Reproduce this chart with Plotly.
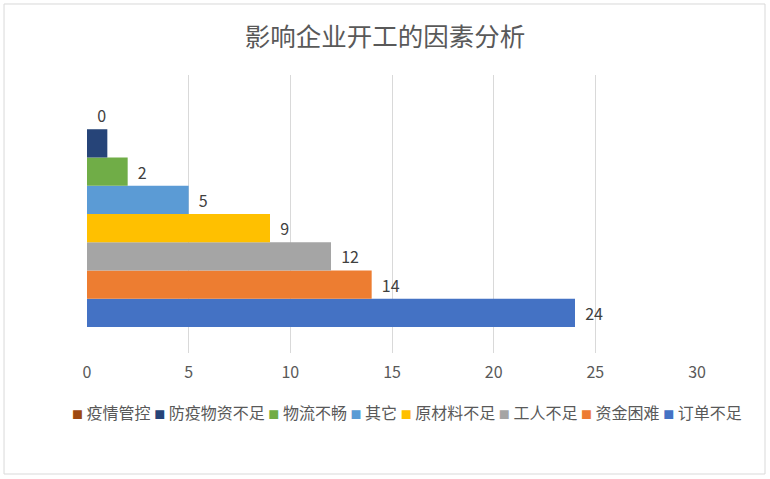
import plotly.graph_objects as go

# bottom-to-top order of the bars
factors = ["订单不足", "资金困难", "工人不足", "原材料不足", "其它", "物流不畅", "防疫物资不足", "疫情管控"]
counts = [24, 14, 12, 9, 5, 2, 1, 0]
labels = ["24", "14", "12", "9", "5", "2", "", "0"]
colors = ["#4472C4", "#ED7D31", "#A5A5A5", "#FFC000", "#5B9BD5", "#70AD47", "#264478", "#9E480E"]

font_cjk = "Noto Sans CJK SC, Noto Sans, sans-serif"

fig = go.Figure()
for name, val, lab, col in zip(factors, counts, labels, colors):
    fig.add_trace(go.Bar(
        y=[""], x=[val], name=name, orientation="h",
        marker=dict(color=col, line=dict(width=0)),
        text=["  " + lab if lab else ""], textposition="outside",
        textfont=dict(size=16, color="#404040", family=font_cjk),
        cliponaxis=False, showlegend=False,
    ))

# legend drawn as one centred line of text, top series first
legend_txt = " ".join(
    "<span style='color:%s;font-size:11px'>■</span> %s" % (col, name)
    for name, col in zip(reversed(factors), reversed(colors))
)

fig.update_layout(
    width=770, height=479,
    barmode="group", bargap=0.187, bargroupgap=0,
    title=dict(text="影响企业开工的因素分析", x=0.5, xanchor="center", xref="container",
               y=0.923, yref="container", yanchor="middle",
               font=dict(size=25.5, color="#595959", family=font_cjk)),
    paper_bgcolor="white", plot_bgcolor="white",
    margin=dict(l=87, r=73, t=75, b=126, autoexpand=False),
    font=dict(family=font_cjk, color="#595959"),
    xaxis=dict(range=[0, 30], dtick=5, showgrid=True, gridcolor="#D9D9D9", gridwidth=1,
               zeroline=False, showline=False, ticks="", ticklabelstandoff=8,
               tickfont=dict(size=16, color="#595959")),
    yaxis=dict(showticklabels=False, showgrid=False, zeroline=False, showline=False),
    showlegend=False,
    annotations=[dict(text=legend_txt, xref="paper", yref="paper", x=0.525, y=-0.212,
                      xanchor="center", yanchor="middle", showarrow=False,
                      font=dict(size=16, color="#595959", family=font_cjk))],
    shapes=[dict(type="rect", xref="paper", yref="paper", x0=-0.136, x1=1.1115, y0=-0.4353, y1=1.2554,
                 line=dict(color="#D9D9D9", width=1))],
)

# drop the browser's default 8px body margin so the chart sits at the window corner
fig.write_html("out.html", config={"displayModeBar": False},
               post_script="document.body.style.margin='0';")
